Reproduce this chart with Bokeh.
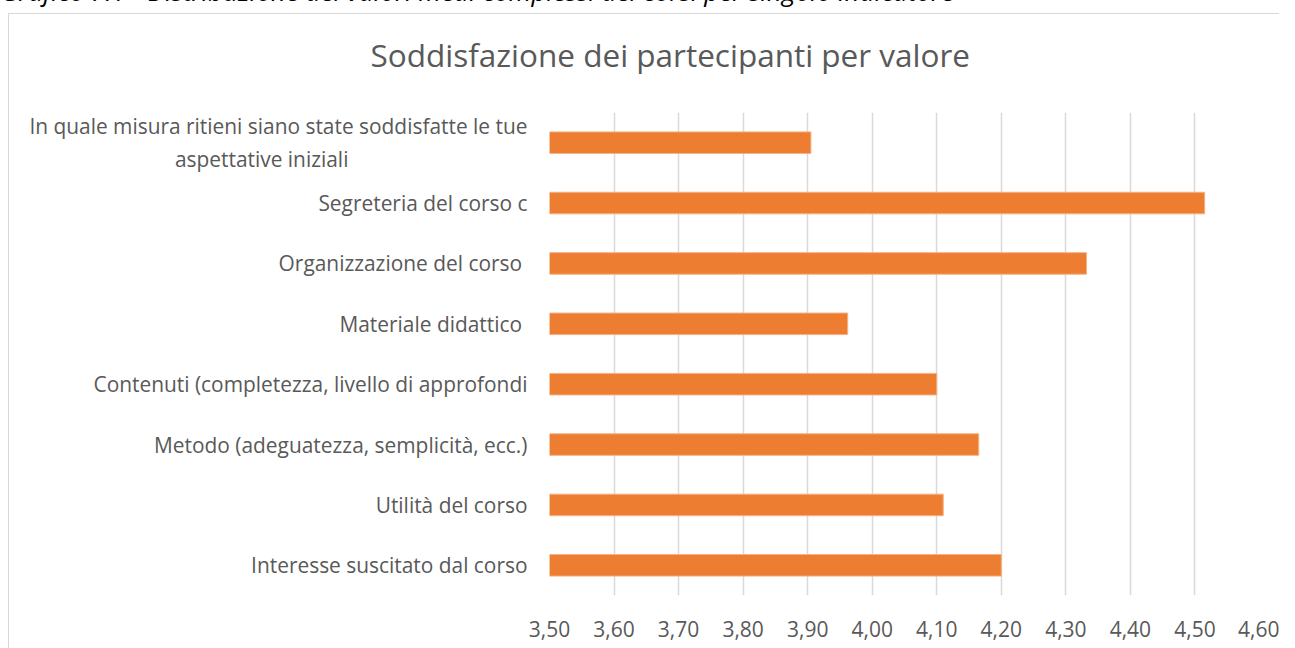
from bokeh.plotting import figure
from bokeh.models import (FixedTicker, CustomJSTickFormatter, ColumnDataSource,
                          Title, InlineStyleSheet)
from bokeh.embed import file_html
from bokeh.resources import INLINE

categories = [
    "Interesse suscitato dal corso",
    "Utilità del corso",
    "Metodo (adeguatezza, semplicità, ecc.)",
    "Contenuti (completezza, livello di approfondi",
    "Materiale didattico ",
    "Organizzazione del corso ",
    "Segreteria del corso c",
    "In quale misura ritieni siano state soddisfatte le tue\naspettative iniziali",
]
values = [4.20, 4.11, 4.165, 4.10, 3.962, 4.332, 4.515, 3.905]
ticks = [3.5, 3.6, 3.7, 3.8, 3.9, 4.0, 4.1, 4.2, 4.3, 4.4, 4.5, 4.6]
title_text = "Soddisfazione dei partecipanti per valore"
caption_text = "Grafico 7.1 - Distribuzione dei valori medi complessi dei corsi per singolo indicatore"

FONT = "Open Sans"
GREY = "#595959"
SHIFT = 24  # canvas is pulled up so the page caption is cut at the top edge

src = ColumnDataSource(dict(cat=categories, val=values))

p = figure(
    width=1279, height=648 + SHIFT,
    y_range=categories, x_range=(3.5, 4.6),
    output_backend="svg", toolbar_location=None,
    min_border_left=549, min_border_right=20,
    min_border_top=112 + SHIFT, min_border_bottom=53,
)
p.hbar(y="cat", left=3.5, right="val", height=0.357, source=src,
       fill_color="#ED7D31", line_color="#F4B183", line_width=1)

main_title = Title(text=title_text, align="left", offset=-179,
                   text_font=FONT, text_font_size="31.5px", text_font_style="normal",
                   text_color=GREY, vertical_align="bottom", standoff=73)
p.add_layout(main_title, "above")

caption = Title(text=caption_text, align="left", offset=-549,
                text_font=FONT, text_font_size="26px", text_font_style="italic",
                text_color="#000000", vertical_align="top", standoff=-32)
p.add_layout(caption, "above")

p.xaxis.ticker = FixedTicker(ticks=ticks)
p.xaxis.formatter = CustomJSTickFormatter(code="return tick.toFixed(2).replace('.', ',');")
p.xaxis.axis_line_color = None
p.xaxis.major_tick_line_color = None
p.xaxis.minor_tick_line_color = None
p.xaxis.major_label_text_font = FONT
p.xaxis.major_label_text_font_size = "21px"
p.xaxis.major_label_text_color = GREY
p.xaxis.major_label_standoff = 19

p.yaxis.axis_line_color = None
p.yaxis.major_tick_line_color = None
p.yaxis.minor_tick_line_color = None
p.yaxis.major_label_text_font = FONT
p.yaxis.major_label_text_font_size = "20.9px"
p.yaxis.major_label_text_color = GREY
p.yaxis.major_label_standoff = 16
# centre the second line of the wrapped label (as in the reference) by padding it
p.yaxis.formatter = CustomJSTickFormatter(code="""
const parts = String(tick).split("\\n");
if (parts.length > 1) {
  parts[1] = parts[1] + "\\u00a0".repeat(33) + "\\u200b";
}
return parts.join("\\n");
""")

p.xgrid.grid_line_color = "#D9D9D9"
p.xgrid.grid_line_width = 1.5
p.ygrid.grid_line_color = None
p.outline_line_color = None
p.background_fill_color = "white"
p.border_fill_color = "white"

p.stylesheets = [InlineStyleSheet(css=f"""
:host {{
  margin-top: -{SHIFT}px;
}}
:host::after {{
  content: "";
  position: absolute;
  left: 8px;
  top: {13 + SHIFT}px;
  right: 0;
  bottom: 0;
  border-left: 1.5px solid #D9D9D9;
  border-top: 1.5px solid #D9D9D9;
  pointer-events: none;
  z-index: 100;
}}
""")]

open("out.html", "w").write(file_html(p, INLINE))
